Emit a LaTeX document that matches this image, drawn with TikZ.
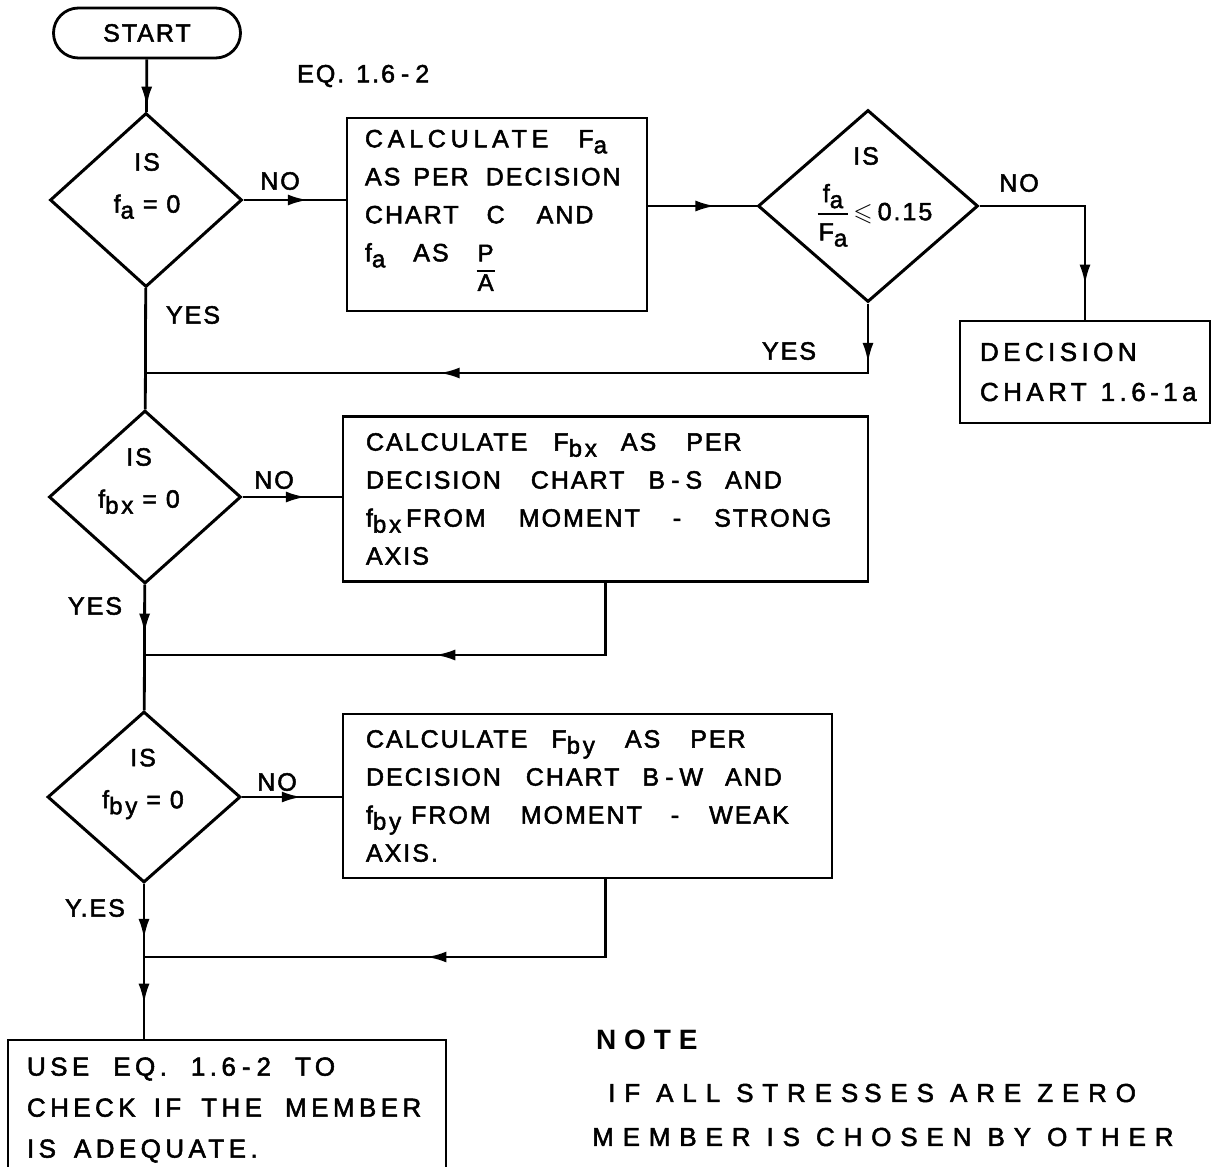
\documentclass[tikz,border=0pt]{standalone}
\usepackage{amsmath,amssymb}
\usepackage{fontspec}
\setmainfont{Liberation Sans}[LetterSpace=8,FakeBold=2]
\newfontfamily\widefont{Liberation Sans}[LetterSpace=17,FakeBold=2]
\newfontfamily\notefont{Liberation Sans}[LetterSpace=34,FakeBold=2]
\newfontfamily\headfont{Liberation Sans}[LetterSpace=28]
\usetikzlibrary{positioning,arrows.meta,shapes.geometric,decorations.markings}
\newcommand{\lo}[1]{\raisebox{-6pt}{\fontsize{24}{24}\selectfont\addfontfeature{LetterSpace=12}#1}}
\newcommand{\sk}[1]{\hspace{#1pt}}
% P over A, numerator on the baseline
\newcommand{\frc}[2]{{\fontsize{24}{24}\selectfont\setlength{\arrayrulewidth}{2pt}\setlength{\tabcolsep}{1pt}%
  \renewcommand{\arraystretch}{1.15}\begin{tabular}[t]{c}#1\\\hline #2\end{tabular}}}
% centred quotient for the second test
\newcommand{\qfrac}[2]{{\fontsize{25}{26}\selectfont\setlength{\arrayrulewidth}{2pt}\setlength{\tabcolsep}{1pt}%
  \renewcommand{\arraystretch}{1.4}\begin{tabular}[c]{c}#1\\\hline #2\end{tabular}}}
\tikzset{
  flow/.style={line width=2.8pt},
  tipmark/.style={postaction={decorate},decoration={markings,mark=at position #1 with {\arrow{Latex[length=20pt,width=11pt]}}}},
  tiptwo/.style 2 args={postaction={decorate},decoration={markings,
    mark=at position #1 with {\arrow{Latex[length=20pt,width=11pt]}},
    mark=at position #2 with {\arrow{Latex[length=20pt,width=11pt]}}}},
  dia/.style={draw,diamond,line width=3pt,inner sep=0pt},
  stepbox/.style={draw,rectangle,line width=2.8pt,align=left,inner ysep=0pt},
  lbl/.style={inner sep=0pt,align=center},
}

\begin{document}
\begin{tikzpicture}[x=1pt,y=-1pt,font=\fontsize{25}{38}\selectfont]
\useasboundingbox[fill=white] (0,0) rectangle (1211,1167);
% top row
\node[draw,line width=2.8pt,rounded corners=25pt,minimum width=187pt,minimum height=50pt,inner sep=0pt] (start) at (147,33) {START};
\node[lbl,anchor=west] (eq) at (297,76) {EQ.\sk{12}1.6\sk{6}-\sk{6}2};
\node[dia,minimum width=192pt,minimum height=174pt] (d1) at (146,200) {};
\node[lbl] (d1t) at (147,186) {IS\\[4pt]f\lo{a} = 0};
\node[stepbox,minimum width=300pt,minimum height=193pt,inner xsep=18pt,text width=264pt] (c1) at (497,214.5)
  {\mbox{{\addfontfeature{LetterSpace=19}CALCULATE}\sk{30}F\lo{a}}\\\mbox{AS\sk{13}PER\sk{17}DECISION}\\
   \mbox{CHART\sk{28}C\sk{32}AND}\\\mbox{f\lo{a}\sk{28}AS\sk{28}\frc{P}{A}}};
\node[dia,minimum width=220pt,minimum height=192pt] (d2) at (868,206) {};
\node[lbl] (d2is) at (866,156) {IS};
\node[lbl] (d2q) at (875,214) {\qfrac{f\lo{a}}{F\lo{a}}\sk{5}$\leqslant$\sk{5}0.15};
\node[stepbox,minimum width=250pt,minimum height=102pt,inner xsep=20pt,text width=210pt,font=\widefont\fontsize{26}{40}\selectfont] (dc) at (1085,372)
  {DECISION\\\mbox{CHART\sk{14}1.6-1a}};
\node[lbl] (no1) at (280,181) {NO};
\node[lbl] (no2) at (1019,183) {NO};
\node[lbl] (yes1) at (193,315) {YES};
\node[lbl] (yes2) at (789,351) {YES};
% middle rows
\node[dia,minimum width=192pt,minimum height=173pt] (d3) at (145,497) {};
\node[lbl] (d3t) at (139,481) {IS\\[4pt]f\lo{bx} = 0};
\node[stepbox,minimum width=525pt,minimum height=165pt,inner xsep=23pt,text width=479pt] (c2) at (605.5,499)
  {\mbox{CALCULATE\sk{26}F\lo{bx}\sk{24}AS\sk{30}PER}\\\mbox{DECISION\sk{30}CHART\sk{24}B\sk{6}-\sk{6}S\sk{23}AND}\\
   \mbox{f\lo{bx}\sk{5}FROM\sk{33}MOMENT\sk{33}-\sk{33}STRONG}\\AXIS};
\node[lbl] (no3) at (274,480) {NO};
\node[lbl] (yes3) at (95,606) {YES};
\node[dia,minimum width=193pt,minimum height=171pt] (d4) at (144,797) {};
\node[lbl] (d4t) at (143,784) {IS\\[4pt]f\lo{by} = 0};
\node[stepbox,minimum width=489pt,minimum height=164pt,inner xsep=23pt,text width=443pt] (c3) at (587.5,796)
  {\mbox{CALCULATE\sk{24}F\lo{by}\sk{30}AS\sk{30}PER}\\\mbox{DECISION\sk{25}CHART\sk{23}B\sk{6}-\sk{6}W\sk{22}AND}\\
   \mbox{f\lo{by}\sk{10}FROM\sk{30}MOMENT\sk{29}-\sk{30}WEAK}\\AXIS.};
\node[lbl] (no4) at (277,782) {NO};
\node[lbl] (yes4) at (95,908) {Y.ES};
% bottom
\node[stepbox,minimum width=438pt,minimum height=140pt,inner xsep=19pt,text width=400pt,font=\widefont\fontsize{26}{41}\selectfont] (fin) at (227,1110)
  {\mbox{USE\sk{24}EQ.\sk{24}1.6\sk{6}-\sk{6}2\sk{24}TO}\\\mbox{CHECK\sk{18}IF\sk{20}THE\sk{23}MEMBER}\\\mbox{IS\sk{18}ADEQUATE.}};
\node[lbl,anchor=west,font=\headfont\bfseries\fontsize{28}{30}\selectfont] (note) at (596,1040) {NOTE};
\node[lbl,anchor=west,font=\notefont\fontsize{26}{30}\selectfont] (n1) at (608,1093) {IF ALL STRES\sk{6}SES ARE ZERO};
\node[lbl,anchor=west,font=\notefont\fontsize{26}{30}\selectfont] (n2) at (592,1137) {MEMBER IS CHOSEN BY OTHER};
% connectors
\coordinate (j1) at (146,373);
\coordinate (j2) at (145,655);
\coordinate (j3) at (144,957);
\coordinate (r3) at (c2.south |- c3.south);
\draw[flow,tipmark=.9] (start) -- (d1);
\draw[flow,tipmark=.63] (d1.east) -- (d1.east -| c1.west);
\draw[flow,tipmark=.62] (d2.west -| c1.east) -- (d2.west);
\draw[flow,tipmark=.84] (d2.east) -| (dc.north);
\draw[flow,tiptwo={.075}{.629}] (d2.south) |- (j1);
\draw[flow] (d1) -- (d3);
\draw[flow,tipmark=.64] (d3.east) -- (d3.east -| c2.west);
\draw[flow,tipmark=.455] (c2.south) |- (j2);
\draw[flow,tipmark=.39] (d3) -- (d4);
\draw[flow,tipmark=.6] (d4.east) -- (d4.east -| c3.west);
\draw[flow,tipmark=.476] (r3) |- (j3);
\draw[flow,tiptwo={.355}{.774}] (d4.south) -- (d4.south |- fin.north);
\end{tikzpicture}
\end{document}
